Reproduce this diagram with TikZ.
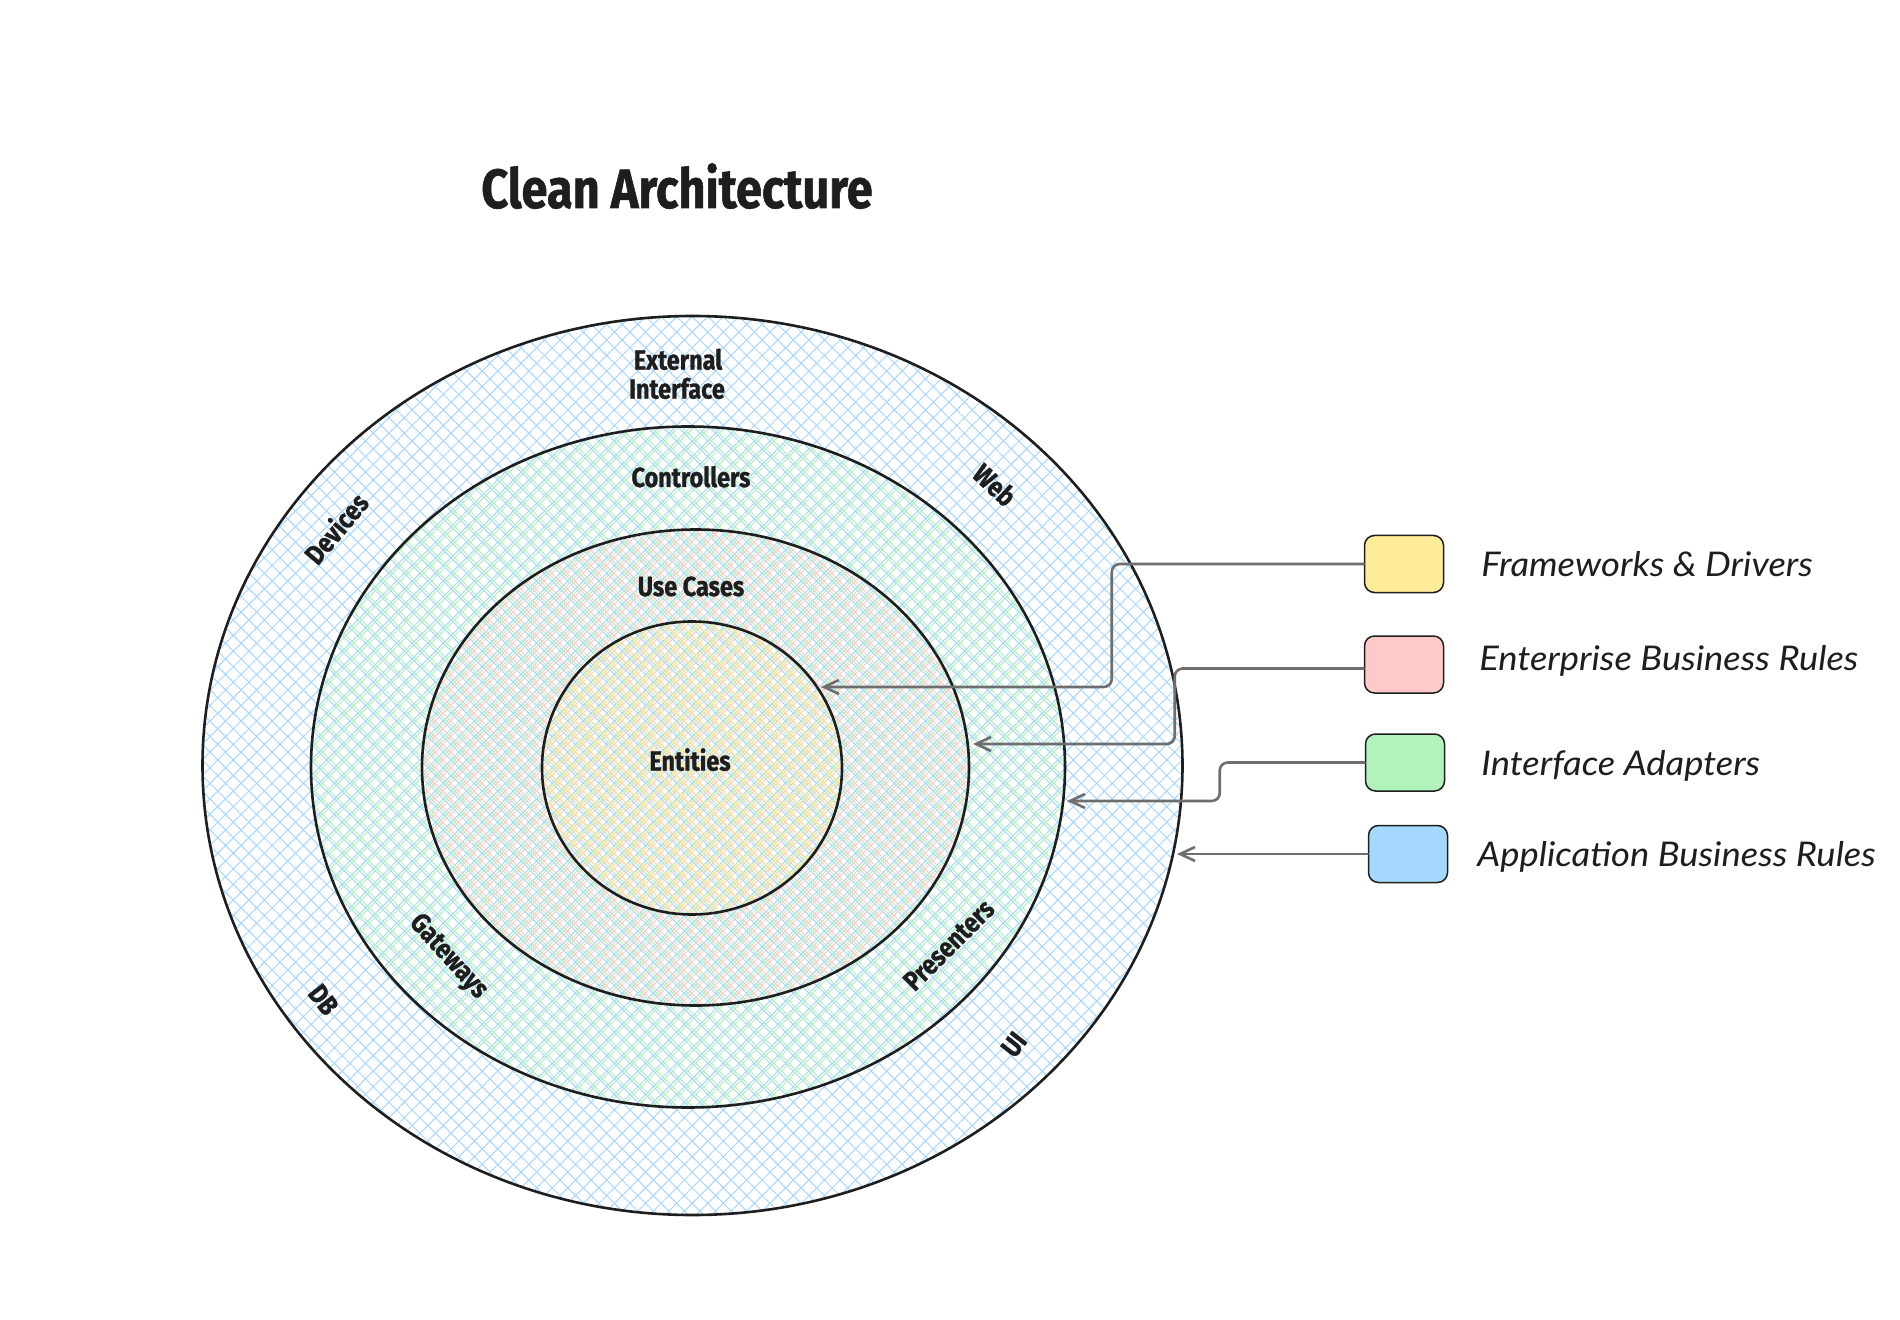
\documentclass[tikz,border=0pt]{standalone}
\usepackage{fontspec}
\setmainfont{Lato}
\newfontfamily\headfont{Fira Sans}[FakeStretch=0.85, FakeBold=1]
\newfontfamily\legfont{Lato}[FakeStretch=1.07]
\usetikzlibrary{patterns.meta,arrows.meta}
\definecolor{ink}{HTML}{1E1E1E}
\definecolor{hblue}{HTML}{A5D8FF}
\definecolor{hgreen}{HTML}{B2F2BB}
\definecolor{hred}{HTML}{FFC9C9}
\definecolor{hyellow}{HTML}{FFEC99}
\definecolor{conncol}{HTML}{6E6E6E}
\begin{document}
\begin{tikzpicture}[x=0.5pt,y=-0.5pt,
  ring/.style={draw=ink, line width=1.3pt},
  lbl/.style={font=\headfont\bfseries\fontsize{13.8}{14.5}\selectfont, text=ink, inner sep=0pt},
  ttl/.style={font=\headfont\bfseries\fontsize{27.6}{30}\selectfont, text=ink, inner sep=0pt},
  legbox/.style={draw=ink, line width=0.75pt, rounded corners=5pt, minimum width=39.5pt, minimum height=28.5pt, inner sep=0pt},
  legtxt/.style={font=\legfont\itshape\fontsize{17}{20}\selectfont, text=ink, anchor=base west, inner sep=0pt},
  conn/.style={draw=conncol, line width=1.3pt, rounded corners=4pt, line cap=round, line join=round, -{Straight Barb[length=7.5pt,width=7pt]}},
]
\useasboundingbox (0,0) rectangle (1900,1320);
\fill[white] (0,0) rectangle (1900,1320);

% rings
\path[ring, pattern={Hatch[angle=45,distance=5.5pt,line width=0.5pt]}, pattern color=hblue]
  (692.5,765.5) ellipse [x radius=490, y radius=449.5];
\path[ring, pattern={Hatch[angle=45,distance=5.5pt,line width=0.5pt,xshift=1.8pt]}, pattern color=hgreen]
  (688,767) ellipse [x radius=377, y radius=340.5];
\path[ring, pattern={Hatch[angle=45,distance=5.5pt,line width=0.5pt,xshift=3.6pt]}, pattern color=hred]
  (695.5,767.5) ellipse [x radius=273.5, y radius=238];
\path[ring, pattern={Hatch[angle=45,distance=5.5pt,line width=0.5pt,xshift=2.7pt,yshift=1.4pt]}, pattern color=hyellow]
  (692,768) ellipse [x radius=150, y radius=146.5];

% title
\node[ttl, anchor=base] (title) at (677,208) {Clean Architecture};

% ring labels
\node[lbl, anchor=base] (ext1) at (678,369.6) {External};
\node[lbl, anchor=base] (ext2) at (677,398.6) {Interface};
\node[lbl, anchor=base] (ctrl) at (691,487) {Controllers};
\node[lbl, anchor=base] (uses) at (691,596) {Use Cases};
\node[lbl, anchor=base] (ent) at (690,770.6) {Entities};
\node[lbl, rotate=50] (dev) at (335.6,528) {Devices};
\node[lbl, rotate=-43] (web) at (994.8,484.7) {Web};
\node[lbl, rotate=-52] (db) at (323.5,999.7) {DB};
\node[lbl, rotate=52] (ui) at (1014,1044.5) {UI};
\node[lbl, rotate=-48] (gate) at (448,957) {Gateways};
\node[lbl, rotate=45] (pres) at (948.8,945) {Presenters};

% legend
\node[legbox, fill=hyellow] (lgY) at (1404,564) {};
\node[legbox, fill=hred] (lgR) at (1404,664.5) {};
\node[legbox, fill=hgreen] (lgG) at (1405,762.5) {};
\node[legbox, fill=hblue] (lgB) at (1408,854) {};
\node[legtxt] (txY) at (1481,576) {Frameworks \& Drivers};
\node[legtxt] (txR) at (1479,670) {Enterprise Business Rules};
\node[legtxt] (txG) at (1481,775) {Interface Adapters};
\node[legtxt] (txB) at (1477,866) {Application Business Rules};

% connector end points on the rings
\coordinate (tY) at (821,687);
\coordinate (tR) at (973,744);
\coordinate (tG) at (1067,801);
\coordinate (tB) at (1177,854);

\draw[conn] (lgY.west) -- ++(-252,0) |- (tY);
\draw[conn] ([yshift=-2pt]lgR.west) -- ++(-189,0) |- (tR);
\draw[conn] (lgG.west) -- ++(-145,0) |- (tG);
\draw[conn] (lgB.west) -- (tB);
\end{tikzpicture}
\end{document}
